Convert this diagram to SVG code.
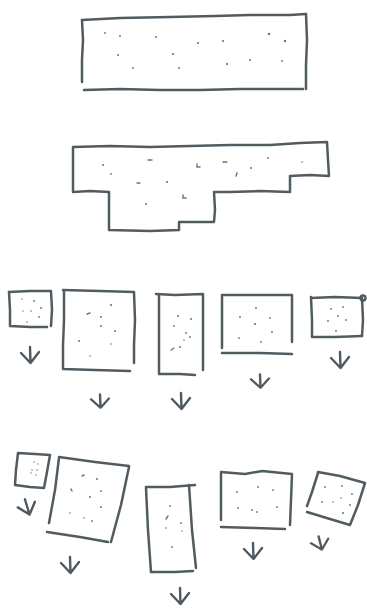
<svg xmlns="http://www.w3.org/2000/svg" width="367" height="608" viewBox="0 0 367 608">
<style>
.s{fill:none;stroke:#515c62;stroke-width:2.5;stroke-linecap:round;stroke-linejoin:round}
.a{fill:none;stroke:#4f5a60;stroke-width:2.4;stroke-linecap:round;stroke-linejoin:round}
.d{fill:#6b7479}
.m{fill:none;stroke:#6b7479;stroke-width:1.4;stroke-linecap:round}
</style>
<defs>
<g id="arr"><path class="a" d="M0,-8 L0.5,8 M-9,-2 L0.5,8 L9,-3"/></g>
</defs>
<rect width="367" height="608" fill="#ffffff"/>
<g id="top-slab">
<path class="s" d="M82,20 L120,18 L170,17 L215,16 L250,15 L290,15 L306,14"/>
<path class="s" d="M82,20 L83,40 L82,60 L82,82"/>
<path class="s" d="M306,14 L307,40 L306,65 L306,89"/>
<path class="s" d="M84,90 L120,89 L160,90 L200,90 L240,89 L280,89 L303,89"/>
<g class="d"><circle cx="105" cy="33" r="0.9"/><circle cx="120" cy="36" r="0.9"/><circle cx="156" cy="37" r="1"/><circle cx="198" cy="43" r="1.1"/><circle cx="223" cy="41" r="1.1"/><circle cx="269" cy="34" r="1.2"/><circle cx="285" cy="41" r="1.2"/><circle cx="118" cy="55" r="1"/><circle cx="173" cy="54" r="1.1"/><circle cx="227" cy="64" r="1.1"/><circle cx="250" cy="60" r="1"/><circle cx="282" cy="61" r="0.9"/><circle cx="133" cy="68" r="0.9"/><circle cx="179" cy="68" r="1"/></g>
</g>
<g id="stepped-slab">
<path class="s" d="M73,147 L110,146 L150,147 L190,146 L230,145 L270,145 L300,143 L327,142 L328,160 L329,176 L310,175 L290,176 L290,192 L260,191 L230,192 L214,192 L215,210 L214,222 L179,222 L179,230 L150,231 L109,230 L109,210 L109,192 L90,191 L73,192 L73,170 Z"/>
<g class="d"><circle cx="103" cy="165" r="1"/><circle cx="111" cy="174" r="0.9"/><circle cx="167" cy="182" r="1.1"/><circle cx="251" cy="168" r="1"/><circle cx="268" cy="158" r="0.9"/><circle cx="302" cy="162" r="0.8"/><circle cx="146" cy="204" r="1"/></g>
<g class="m"><path d="M148,160 L152,160"/><path d="M137,183 L140,183"/><path d="M197,164 L197,167 L200,167"/><path d="M223,162 L227,162"/><path d="M236,176 L237,173"/><path d="M183,195 L183,198 L186,198"/></g>
</g>
<g id="row1-box1">
<path class="s" d="M9,292 L30,291 L51,291 L52,310 L51,326"/>
<path class="s" d="M9,292 L10,310 L10,326 L30,327 L47,327"/>
<g class="d"><circle cx="22" cy="299" r="0.7"/><circle cx="34" cy="301" r="0.9"/><circle cx="41" cy="308" r="1"/><circle cx="23" cy="311" r="0.7"/><circle cx="31" cy="311" r="0.8"/><circle cx="39" cy="317" r="0.9"/><circle cx="27" cy="322" r="0.8"/></g>
</g>
<g id="row1-box2">
<path class="s" d="M63,290 L100,291 L134,292 L135,320 L134,345 L134,363"/>
<path class="s" d="M64,291 L64,320 L63,345 L63,369 L95,370 L130,371"/>
<g class="d"><circle cx="111" cy="305" r="1.1"/><circle cx="101" cy="317" r="1"/><circle cx="101" cy="326" r="1"/><circle cx="115" cy="331" r="1"/><circle cx="79" cy="341" r="1"/><circle cx="111" cy="344" r="0.8"/><circle cx="90" cy="356" r="0.8"/></g>
<path class="m" d="M87,314 L90,313"/>
</g>
<g id="row1-box3">
<path class="s" d="M156,294 L175,295 L203,294 L203,330 L203,370"/>
<path class="s" d="M159,295 L159,330 L159,365 L159,374 L180,374 L195,375"/>
<g class="d"><circle cx="178" cy="316" r="1"/><circle cx="191" cy="319" r="1"/><circle cx="174" cy="326" r="0.9"/><circle cx="186" cy="333" r="0.9"/><circle cx="190" cy="337" r="0.9"/><circle cx="180" cy="347" r="1"/><circle cx="184" cy="340" r="0.8"/></g>
<path class="m" d="M171,350 L174,348"/>
</g>
<g id="row1-box4">
<path class="s" d="M222,295 L260,295 L292,295 L292,320 L292,342"/>
<path class="s" d="M222,296 L222,320 L222,348"/>
<path class="s" d="M222,353 L260,353 L292,354"/>
<g class="d"><circle cx="256" cy="308" r="0.9"/><circle cx="240" cy="317" r="0.9"/><circle cx="270" cy="318" r="0.9"/><circle cx="255" cy="324" r="1.1"/><circle cx="272" cy="332" r="0.9"/><circle cx="239" cy="338" r="0.9"/><circle cx="261" cy="342" r="0.9"/></g>
</g>
<g id="row1-box5">
<path class="s" d="M311,298 L335,297 L362,298 L363,320 L362,336"/>
<path class="s" d="M311,297 L312,320 L312,337 L335,337 L362,336"/>
<circle class="a" cx="363" cy="298" r="2.5" stroke-width="1.6"/>
<g class="d"><circle cx="331" cy="309" r="0.9"/><circle cx="343" cy="307" r="0.9"/><circle cx="338" cy="316" r="0.9"/><circle cx="328" cy="321" r="0.9"/><circle cx="346" cy="320" r="0.9"/><circle cx="336" cy="331" r="0.9"/></g>
</g>
<g id="row2-box1">
<path class="s" d="M18,453 L35,454 L50,455 L47,472 L44,488 L30,487 L15,485 L16,470 Z"/>
<g class="d"><circle cx="34" cy="462" r="0.7"/><circle cx="38" cy="464" r="0.7"/><circle cx="32" cy="470" r="0.7"/><circle cx="37" cy="470" r="0.7"/><circle cx="36" cy="475" r="0.7"/><circle cx="31" cy="473" r="0.7"/></g>
</g>
<g id="row2-box2">
<path class="s" d="M59,457 L95,462 L129,466"/>
<path class="s" d="M59,458 L55,490 L49,523"/>
<path class="s" d="M129,467 L121,505 L111,542"/>
<path class="s" d="M47,532 L80,537 L108,542"/>
<g class="d"><circle cx="97" cy="479" r="1"/><circle cx="101" cy="491" r="0.9"/><circle cx="90" cy="497" r="1"/><circle cx="101" cy="507" r="1"/><circle cx="70" cy="513" r="0.8"/><circle cx="84" cy="518" r="0.8"/><circle cx="92" cy="521" r="0.9"/></g>
<g class="m"><path d="M82,476 L84,475"/><path d="M71,489 L72,491"/></g>
</g>
<g id="row2-box3">
<path class="s" d="M146,487 L170,487 L195,485"/>
<path class="s" d="M146,488 L148,530 L151,572"/>
<path class="s" d="M189,485 L192,530 L196,568"/>
<path class="s" d="M151,572 L175,572 L193,571"/>
<g class="d"><circle cx="170" cy="506" r="0.9"/><circle cx="181" cy="523" r="0.9"/><circle cx="166" cy="528" r="0.8"/><circle cx="182" cy="531" r="0.7"/><circle cx="172" cy="547" r="0.9"/></g>
<path class="m" d="M166,519 L168,516"/>
</g>
<g id="row2-box4">
<path class="s" d="M221,472 L245,474 L262,471 L292,474 L291,500 L290,525"/>
<path class="s" d="M221,473 L221,500 L221,520"/>
<path class="s" d="M221,527 L255,528 L285,529"/>
<g class="d"><circle cx="237" cy="492" r="0.9"/><circle cx="258" cy="487" r="0.9"/><circle cx="273" cy="490" r="0.9"/><circle cx="238" cy="508" r="0.9"/><circle cx="252" cy="510" r="0.9"/><circle cx="257" cy="512" r="0.9"/><circle cx="277" cy="507" r="0.9"/></g>
</g>
<g id="row2-box5">
<path class="s" d="M318,472 L340,476 L365,483 L358,505 L350,525 L330,519 L307,512"/>
<path class="s" d="M318,473 L312,492 L307,506"/>
<g class="d"><circle cx="325" cy="487" r="0.9"/><circle cx="342" cy="486" r="0.9"/><circle cx="352" cy="494" r="0.9"/><circle cx="341" cy="498" r="0.8"/><circle cx="322" cy="502" r="0.9"/><circle cx="333" cy="502" r="0.8"/><circle cx="350" cy="505" r="0.9"/><circle cx="343" cy="513" r="1"/></g>
</g>
<g id="arrows">
<use href="#arr" transform="translate(30,355)"/>
<use href="#arr" transform="translate(100,401) scale(1,0.85)"/>
<use href="#arr" transform="translate(181,401)"/>
<use href="#arr" transform="translate(260,381) scale(1,0.85)"/>
<use href="#arr" transform="translate(340,360)"/>
<use href="#arr" transform="translate(27,507) rotate(-15)"/>
<use href="#arr" transform="translate(70,565)"/>
<use href="#arr" transform="translate(180,596)"/>
<use href="#arr" transform="translate(253,551)"/>
<use href="#arr" transform="translate(320,543) rotate(-12) scale(1,0.85)"/>
</g>
</svg>
